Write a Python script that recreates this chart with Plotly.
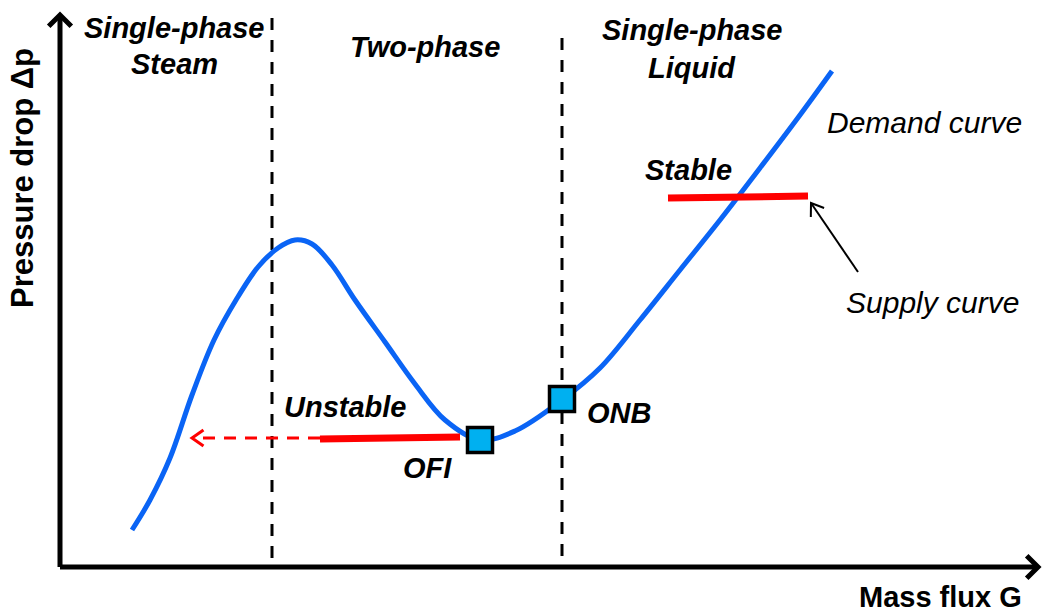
import numpy as np
import plotly.graph_objects as go

# ---- data (schematic, in image-like units: x right, y down) ----
demand_x = [132, 150, 170, 192, 214, 236, 258, 278, 295, 312, 332, 355, 385, 415, 445, 480, 515,
            562, 600, 640, 680, 720, 760, 800, 832]
demand_y = [530, 500, 458, 395, 340, 300, 267, 248, 240, 244, 265, 300, 342, 384, 420, 440, 431,
            400, 368, 320, 270, 220, 168, 115, 71]

boundary_x = [272, 562]
boundary_top = [18, 38]
axis_origin = [60, 567]
axis_x_end = 1036
axis_y_end = 17

stable_x = [668, 808]
stable_y = [198, 196]
unstable_x = [320, 460]
unstable_y = [439, 437]
unstable_dash_x = [320, 192]
unstable_dash_y = [438, 438]

points_name = ["OFI", "ONB"]
points_x = [480, 562]
points_y = [440, 399]

supply_arrow_from = [858, 272]
supply_arrow_to = [811, 203]

region_labels = ["Single-phase", "Steam", "Two-phase", "Single-phase", "Liquid"]
region_x = [174, 174, 425, 692, 692]
region_y = [28, 64, 47, 30, 68]

FONT = "Liberation Sans"

fig = go.Figure()

# dashed phase boundaries
for bx, bt in zip(boundary_x, boundary_top):
    fig.add_shape(type="line", x0=bx, x1=bx, y0=bt, y1=axis_origin[1], layer="below",
                  line=dict(color="black", width=3, dash="12px,10px"))

def chevron(tip, frm, length, half_angle_deg):
    tip = np.array(tip, float); frm = np.array(frm, float)
    d = (frm - tip) / np.linalg.norm(frm - tip)
    a = np.radians(half_angle_deg)
    rot = lambda v, t: np.array([v[0]*np.cos(t) - v[1]*np.sin(t), v[0]*np.sin(t) + v[1]*np.cos(t)])
    p1 = tip + length * rot(d, a)
    p2 = tip + length * rot(d, -a)
    return f"M {p1[0]},{p1[1]} L {tip[0]},{tip[1]} L {p2[0]},{p2[1]}"

# axes
ox, oy = axis_origin
fig.add_shape(type="line", x0=ox, y0=oy, x1=axis_x_end, y1=oy, line=dict(color="black", width=5))
fig.add_shape(type="line", x0=ox, y0=oy, x1=ox, y1=axis_y_end, line=dict(color="black", width=5))
fig.add_shape(type="path", path=chevron([axis_x_end + 2, oy], [ox, oy], 16, 45),
              line=dict(color="black", width=5))
fig.add_shape(type="path", path=chevron([ox, axis_y_end - 2], [ox, oy], 16, 45),
              line=dict(color="black", width=5))

# demand curve
fig.add_trace(go.Scatter(x=demand_x, y=demand_y, mode="lines",
                         line=dict(color="#0a64f5", width=5, shape="spline", smoothing=1.0),
                         hoverinfo="skip", showlegend=False))

# supply lines
fig.add_trace(go.Scatter(x=unstable_dash_x, y=unstable_dash_y, mode="lines",
                         line=dict(color="#ff0000", width=3, dash="12px,9px"),
                         hoverinfo="skip", showlegend=False))
fig.add_shape(type="path",
              path=chevron([unstable_dash_x[1], unstable_dash_y[1]], [unstable_dash_x[0], unstable_dash_y[0]], 14, 35),
              line=dict(color="#ff0000", width=3))
fig.add_trace(go.Scatter(x=unstable_x, y=unstable_y, mode="lines",
                         line=dict(color="#ff0000", width=7), hoverinfo="skip", showlegend=False))
fig.add_trace(go.Scatter(x=stable_x, y=stable_y, mode="lines",
                         line=dict(color="#ff0000", width=7), hoverinfo="skip", showlegend=False))

# supply curve pointer
fig.add_shape(type="line", x0=supply_arrow_from[0], y0=supply_arrow_from[1],
              x1=supply_arrow_to[0], y1=supply_arrow_to[1], line=dict(color="black", width=2))
fig.add_shape(type="path", path=chevron(supply_arrow_to, supply_arrow_from, 14, 35),
              line=dict(color="black", width=2))

# OFI / ONB markers
fig.add_trace(go.Scatter(x=points_x, y=points_y, mode="markers",
                         marker=dict(symbol="square", size=25, color="#00b0f0",
                                     line=dict(color="black", width=3.5)),
                         hoverinfo="skip", showlegend=False))

def txt(s, x, y, size, bold=True, italic=True, angle=0):
    fig.add_annotation(x=x, y=y, xref="x", yref="y", text=s, showarrow=False,
                       textangle=angle, xanchor="center", yanchor="middle",
                       font=dict(family=FONT, size=size, color="black",
                                 weight="bold" if bold else "normal",
                                 style="italic" if italic else "normal"))

for s, x, y in zip(region_labels, region_x, region_y):
    txt(s, x, y, 29)

txt("Stable", 688, 170, 29)
txt("Unstable", 345, 407, 29)
txt(points_name[0], 427, 468, 29)
txt(points_name[1], 619, 413, 29)
txt("Demand curve", 924, 122, 30, bold=False)
txt("Supply curve", 932, 302, 30, bold=False)
txt("Mass flux G", 940, 597, 29, italic=False)
txt("Pressure drop Δp", 22, 178, 31, italic=False, angle=-90)

fig.update_layout(
    width=1043, height=612,
    margin=dict(l=0, r=0, t=0, b=0),
    paper_bgcolor="white", plot_bgcolor="white",
    xaxis=dict(range=[0, 1043], visible=False, fixedrange=True),
    yaxis=dict(range=[612, 0], visible=False, fixedrange=True),
    showlegend=False,
)

fig.write_html("out.html", config={"displayModeBar": False},
               post_script="document.body.style.margin='0';document.body.style.overflow='hidden';")
